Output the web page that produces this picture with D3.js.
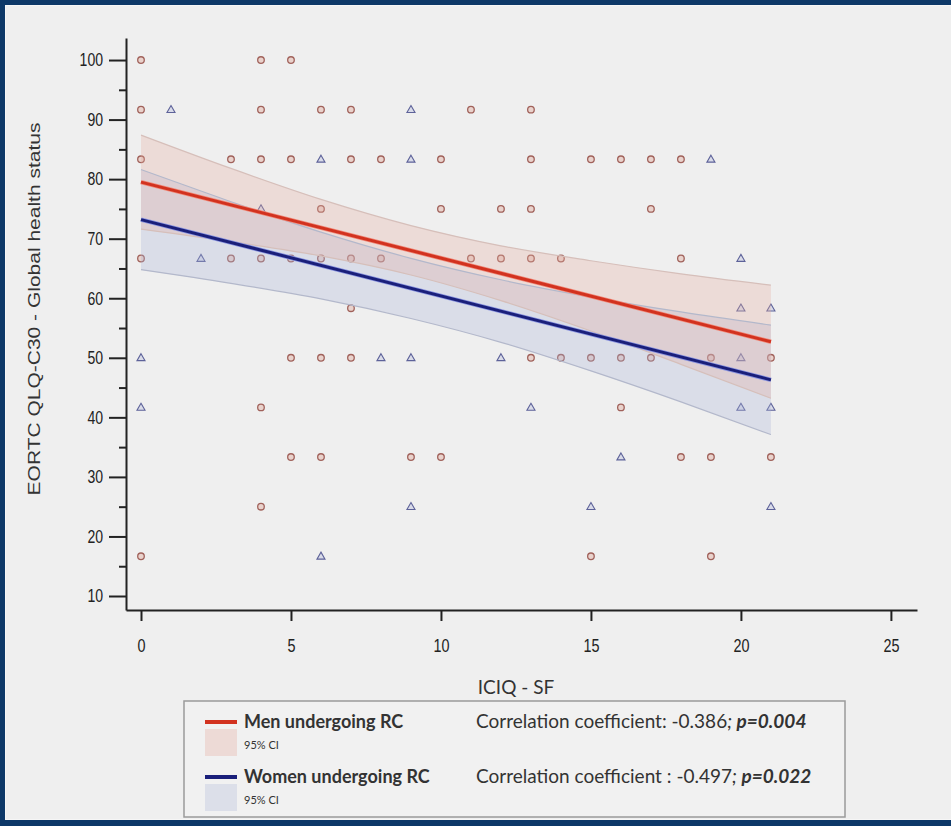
<!DOCTYPE html>
<html lang="en">
<head>
<meta charset="utf-8">
<title>ICIQ-SF vs EORTC QLQ-C30</title>
<script src="https://cdn.jsdelivr.net/npm/d3@7"></script>
<style>
  html, body { margin: 0; padding: 0; background: #efefef; }
  svg { display: block; }
  .axis path, .axis line { stroke: #222; stroke-width: 2; }
  .legend text { font-family: Lato, "Open Sans", sans-serif; fill: #333; }
</style>
</head>
<body>
<script>
// ---- data ----
var menPoints = [
  [0,100],[4,100],[5,100],
  [0,91.67],[4,91.67],[6,91.67],[7,91.67],[11,91.67],[13,91.67],
  [0,83.33],[3,83.33],[4,83.33],[5,83.33],[7,83.33],[8,83.33],[10,83.33],[13,83.33],[15,83.33],[16,83.33],[17,83.33],[18,83.33],
  [6,75],[10,75],[12,75],[13,75],[17,75],
  [0,66.67],[3,66.67],[4,66.67],[5,66.67],[6,66.67],[7,66.67],[8,66.67],[11,66.67],[12,66.67],[13,66.67],[14,66.67],[18,66.67],
  [7,58.33],
  [5,50],[6,50],[7,50],[13,50],[14,50],[15,50],[16,50],[17,50],[19,50],[21,50],
  [4,41.67],[16,41.67],
  [5,33.33],[6,33.33],[9,33.33],[10,33.33],[18,33.33],[19,33.33],[21,33.33],
  [4,25],
  [0,16.67],[15,16.67],[19,16.67]
];
var womenPoints = [
  [1,91.67],[9,91.67],
  [6,83.33],[9,83.33],[19,83.33],
  [4,75],
  [2,66.67],[20,66.67],
  [20,58.33],[21,58.33],
  [0,50],[8,50],[9,50],[12,50],[20,50],
  [0,41.67],[13,41.67],[20,41.67],[21,41.67],
  [16,33.33],
  [9,25],[15,25],[21,25],
  [6,16.67]
];

var fitX = [0, 21];
var menFit = [79.5, 52.7];
var womenFit = [73.2, 46.3];

var bandX = [0, 3, 6, 9, 12, 15, 18, 21];
var menUpper = [87.4, 81.8, 76.6, 72.2, 68.8, 66.3, 64.1, 62.2];
var menLower = [71.6, 69.5, 67.1, 63.9, 59.6, 54.5, 48.9, 43.2];
var womenUpper = [81.6, 76.2, 71.1, 66.7, 63.1, 60.2, 57.7, 55.5];
var womenLower = [64.8, 62.5, 59.9, 56.6, 52.6, 47.8, 42.6, 37.1];

var xTicks = [0, 5, 10, 15, 20, 25];
var yTicks = [10, 20, 30, 40, 50, 60, 70, 80, 90, 100];
var yMinorTicks = [15, 25, 35, 45, 55, 65, 75, 85, 95];

var w = 951, h = 826;

var svg = d3.select("body").append("svg")
  .attr("width", w)
  .attr("height", h);

// page frame
svg.append("rect").attr("x", 0).attr("y", 0).attr("width", w).attr("height", h).attr("fill", "#0d3868");
svg.append("rect").attr("x", 5).attr("y", 5).attr("width", w - 5).attr("height", h - 11).attr("fill", "#f6f6f6");
svg.append("rect").attr("x", 6).attr("y", 6).attr("width", w - 6).attr("height", h - 13).attr("fill", "#efefef");

// scales
var xScale = d3.scaleLinear().domain([-0.5, 25.87]).range([126, 917]);
var yScale = d3.scaleLinear().domain([7.65, 103.7]).range([610, 38]);

// points first, bands are see-through on top
var g = svg.append("g");

g.selectAll("circle.men")
  .data(menPoints)
  .enter()
  .append("circle")
  .attr("class", "men")
  .attr("cx", function(d) { return xScale(d[0]); })
  .attr("cy", function(d) { return yScale(d[1]); })
  .attr("r", 3.3)
  .attr("fill", "#e9d2cc")
  .attr("stroke", "#a0615a")
  .attr("stroke-width", 1.3);

var tri = d3.symbol().type(d3.symbolTriangle).size(28);
g.selectAll("path.women")
  .data(womenPoints)
  .enter()
  .append("path")
  .attr("class", "women")
  .attr("d", tri)
  .attr("transform", function(d) { return "translate(" + xScale(d[0]) + "," + (yScale(d[1]) + 0.5) + ")"; })
  .attr("fill", "#d9dbe8")
  .attr("stroke", "#5d6299")
  .attr("stroke-width", 1.1);

// CI bands
function bandArea(upper, lower) {
  return d3.area()
    .x(function(d, i) { return xScale(bandX[i]); })
    .y0(function(d, i) { return yScale(lower[i]); })
    .y1(function(d, i) { return yScale(upper[i]); })
    .curve(d3.curveMonotoneX)(bandX);
}
function edge(vals) {
  return d3.line()
    .x(function(d, i) { return xScale(bandX[i]); })
    .y(function(d, i) { return yScale(vals[i]); })
    .curve(d3.curveMonotoneX)(bandX);
}

svg.append("path").attr("d", bandArea(womenUpper, womenLower))
  .attr("fill", "#a9b3d8").attr("fill-opacity", 0.3);
svg.append("path").attr("d", bandArea(menUpper, menLower))
  .attr("fill", "#e6ad9f").attr("fill-opacity", 0.3);

[womenUpper, womenLower].forEach(function(v) {
  svg.append("path").attr("d", edge(v)).attr("fill", "none")
    .attr("stroke", "#b3b8cb").attr("stroke-width", 1.2);
});
[menUpper, menLower].forEach(function(v) {
  svg.append("path").attr("d", edge(v)).attr("fill", "none")
    .attr("stroke", "#d6bfba").attr("stroke-width", 1.2);
});

// regression lines
function fitLine(vals) {
  return d3.line()
    .x(function(d, i) { return xScale(fitX[i]); })
    .y(function(d, i) { return yScale(vals[i]); })(fitX);
}
svg.append("path").attr("d", fitLine(menFit)).attr("fill", "none")
  .attr("stroke", "#f08a7a").attr("stroke-width", 4.5);
svg.append("path").attr("d", fitLine(menFit)).attr("fill", "none")
  .attr("stroke", "#d2321f").attr("stroke-width", 3);
svg.append("path").attr("d", fitLine(womenFit)).attr("fill", "none")
  .attr("stroke", "#8a94e0").attr("stroke-width", 4.5);
svg.append("path").attr("d", fitLine(womenFit)).attr("fill", "none")
  .attr("stroke", "#1a1f7a").attr("stroke-width", 3);

// axes (labels a bit narrow like the original)
var xAxis = d3.axisBottom(xScale).tickValues(xTicks).tickSize(11).tickPadding(18).tickSizeOuter(0);
var xg = svg.append("g").attr("class", "axis")
  .attr("transform", "translate(0,610)")
  .call(xAxis);
xg.selectAll("text")
  .attr("font-family", "'Liberation Sans', Arial, sans-serif")
  .attr("font-size", 18)
  .attr("fill", "#222")
  .attr("transform", "scale(0.8,1)");

var yAxis = d3.axisLeft(yScale).tickValues(yTicks).tickSize(17).tickSizeOuter(0);
var yg = svg.append("g").attr("class", "axis")
  .attr("transform", "translate(126,0)")
  .call(yAxis);
yg.selectAll("text")
  .attr("x", 0)
  .attr("font-family", "'Liberation Sans', Arial, sans-serif")
  .attr("font-size", 18)
  .attr("fill", "#222")
  .attr("transform", "translate(-23,0) scale(0.78,1)");

var yMinor = d3.axisLeft(yScale).tickValues(yMinorTicks).tickSize(7).tickFormat("").tickSizeOuter(0);
svg.append("g").attr("class", "axis")
  .attr("transform", "translate(126,0)")
  .call(yMinor)
  .select(".domain").remove();

// axis titles
svg.append("text")
  .attr("x", 516).attr("y", 694)
  .attr("text-anchor", "middle")
  .attr("font-family", "Lato, sans-serif")
  .attr("font-size", 19)
  .attr("fill", "#333")
  .text("ICIQ - SF");

svg.append("text")
  .attr("transform", "translate(40,309) rotate(-90) scale(1,0.8)")
  .attr("text-anchor", "middle")
  .attr("font-family", "'Liberation Sans', Arial, sans-serif")
  .attr("font-size", 21)
  .attr("fill", "#333")
  .text("EORTC QLQ-C30 - Global health status");

// legend
var legend = svg.append("g").attr("class", "legend");
legend.append("rect")
  .attr("x", 184).attr("y", 701).attr("width", 661).attr("height", 116)
  .attr("fill", "#f1f1f1").attr("stroke", "#9a9a9a").attr("stroke-width", 1.5);

var legendRows = [
  { name: "Men undergoing RC", line: "#d2321f", box: "#eddad6", corr: "Correlation coefficient: -0.386", p: "p=0.004", y: 722 },
  { name: "Women undergoing RC", line: "#1a1f7a", box: "#dcdfe9", corr: "Correlation coefficient : -0.497", p: "p=0.022", y: 777 }
];

legendRows.forEach(function(r) {
  legend.append("line")
    .attr("x1", 205).attr("x2", 237).attr("y1", r.y).attr("y2", r.y)
    .attr("stroke", r.line).attr("stroke-width", 4);
  legend.append("rect")
    .attr("x", 205).attr("y", r.y + 7).attr("width", 32).attr("height", 27)
    .attr("fill", r.box);
  legend.append("text")
    .attr("x", 244).attr("y", r.y + 6)
    .attr("font-size", 18).attr("font-weight", "bold")
    .text(r.name);
  legend.append("text")
    .attr("x", 244).attr("y", r.y + 27)
    .attr("font-size", 11)
    .text("95% CI");
  var t = legend.append("text")
    .attr("x", 476).attr("y", r.y + 6)
    .attr("font-size", 19);
  t.append("tspan").text(r.corr);
  t.append("tspan").attr("font-style", "italic").text("; ");
  t.append("tspan").attr("font-style", "italic").attr("font-weight", "bold").text(r.p);
});
</script>
</body>
</html>
